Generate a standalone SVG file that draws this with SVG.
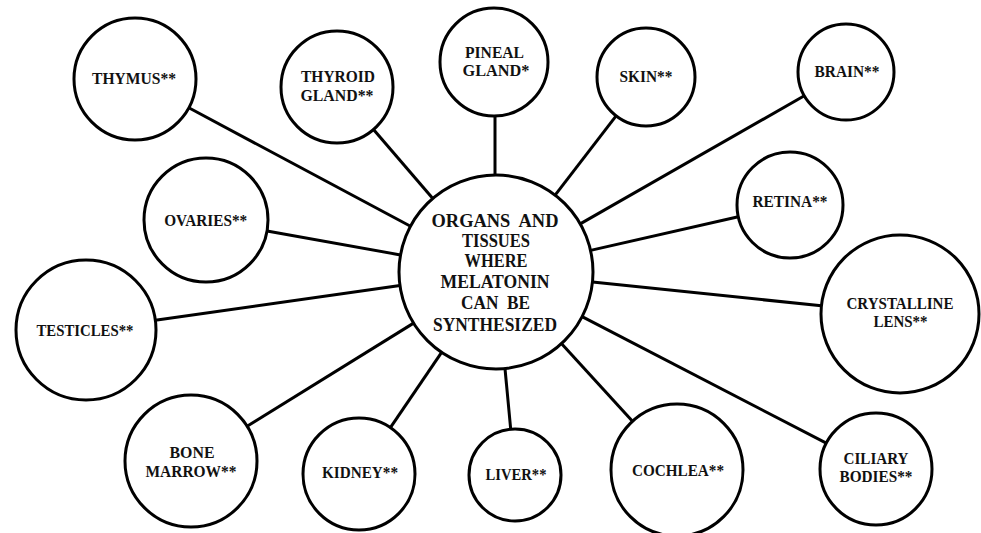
<svg xmlns="http://www.w3.org/2000/svg" width="981" height="533" viewBox="0 0 981 533">
<style>
.n{fill:#fff;stroke:#000;stroke-width:3}
.c line{stroke:#000;stroke-width:3;stroke-linecap:butt}
text{font-family:"Liberation Serif","Times New Roman",serif;font-weight:bold;font-size:16.5px;fill:#111;text-anchor:middle}
.m{font-size:19px}
</style>
<rect width="981" height="533" fill="#fff"/>
<g class="c" id="connectors">
<line x1="188.8" y1="107.8" x2="410.5" y2="226.3"/>
<line x1="373.5" y1="129.5" x2="432.8" y2="198.4"/>
<line x1="495" y1="116" x2="495" y2="175"/>
<line x1="616.1" y1="115.8" x2="555.1" y2="195.1"/>
<line x1="804.3" y1="95.8" x2="580.2" y2="223.9"/>
<line x1="267" y1="230.9" x2="400.5" y2="254.9"/>
<line x1="738.3" y1="216.8" x2="590.6" y2="250.4"/>
<line x1="155.3" y1="320.2" x2="400" y2="285.6"/>
<line x1="821.4" y1="305.8" x2="592.5" y2="282"/>
<line x1="247.1" y1="426.2" x2="413.6" y2="323.1"/>
<line x1="390.4" y1="427.7" x2="441.6" y2="352.3"/>
<line x1="510.7" y1="429.2" x2="505" y2="368.6"/>
<line x1="632.5" y1="421.3" x2="561.4" y2="343.6"/>
<line x1="826.3" y1="443.2" x2="582.1" y2="316.6"/>
</g>
<g id="center">
<circle class="n" cx="496" cy="272" r="97"/>
<text class="m" x="495" y="226.5" textLength="127" lengthAdjust="spacingAndGlyphs" xml:space="preserve">ORGANS  AND</text>
<text class="m" x="496" y="246.5" textLength="68" lengthAdjust="spacingAndGlyphs">TISSUES</text>
<text class="m" x="496" y="267" textLength="63" lengthAdjust="spacingAndGlyphs">WHERE</text>
<text class="m" x="495" y="288" textLength="109" lengthAdjust="spacingAndGlyphs">MELATONIN</text>
<text class="m" x="495.5" y="309" textLength="69" lengthAdjust="spacingAndGlyphs" xml:space="preserve">CAN  BE</text>
<text class="m" x="495" y="331" textLength="124" lengthAdjust="spacingAndGlyphs">SYNTHESIZED</text>
</g>
<g id="thymus"><circle class="n" cx="135" cy="79" r="61"/><text x="134" y="84" textLength="84" lengthAdjust="spacingAndGlyphs">THYMUS**</text></g>
<g id="thyroid"><circle class="n" cx="337" cy="87" r="56"/><text x="338" y="82" textLength="74" lengthAdjust="spacingAndGlyphs">THYROID</text><text x="337" y="101" textLength="73" lengthAdjust="spacingAndGlyphs">GLAND**</text></g>
<g id="pineal"><circle class="n" cx="494" cy="62" r="54"/><text x="494.5" y="58" textLength="59" lengthAdjust="spacingAndGlyphs">PINEAL</text><text x="496" y="76" textLength="67" lengthAdjust="spacingAndGlyphs">GLAND*</text></g>
<g id="skin"><circle class="n" cx="646" cy="77" r="49"/><text x="646" y="82" textLength="53" lengthAdjust="spacingAndGlyphs">SKIN**</text></g>
<g id="brain"><circle class="n" cx="846" cy="72" r="48"/><text x="847" y="77" textLength="65" lengthAdjust="spacingAndGlyphs">BRAIN**</text></g>
<g id="ovaries"><circle class="n" cx="206" cy="220" r="62"/><text x="205.7" y="226" textLength="83" lengthAdjust="spacingAndGlyphs">OVARIES**</text></g>
<g id="retina"><circle class="n" cx="790" cy="205" r="53"/><text x="790" y="207" textLength="75" lengthAdjust="spacingAndGlyphs">RETINA**</text></g>
<g id="testicles"><circle class="n" cx="86" cy="330" r="70"/><text x="85" y="336" textLength="97" lengthAdjust="spacingAndGlyphs">TESTICLES**</text></g>
<g id="crystalline"><circle class="n" cx="900" cy="314" r="79"/><text x="900" y="309" textLength="107" lengthAdjust="spacingAndGlyphs">CRYSTALLINE</text><text x="900.5" y="327" textLength="54" lengthAdjust="spacingAndGlyphs">LENS**</text></g>
<g id="bone-marrow"><circle class="n" cx="191" cy="461" r="66"/><text x="192" y="458" textLength="45" lengthAdjust="spacingAndGlyphs">BONE</text><text x="191" y="477" textLength="91" lengthAdjust="spacingAndGlyphs">MARROW**</text></g>
<g id="kidney"><circle class="n" cx="359" cy="474" r="56"/><text x="360" y="478" textLength="76" lengthAdjust="spacingAndGlyphs">KIDNEY**</text></g>
<g id="liver"><circle class="n" cx="515" cy="475" r="46"/><text x="516" y="480" textLength="61" lengthAdjust="spacingAndGlyphs">LIVER**</text></g>
<g id="cochlea"><circle class="n" cx="677" cy="470" r="66"/><text x="678" y="476" textLength="92" lengthAdjust="spacingAndGlyphs">COCHLEA**</text></g>
<g id="ciliary"><circle class="n" cx="876" cy="469" r="56"/><text x="876" y="464" textLength="65" lengthAdjust="spacingAndGlyphs">CILIARY</text><text x="876" y="482" textLength="73" lengthAdjust="spacingAndGlyphs">BODIES**</text></g>
</svg>
